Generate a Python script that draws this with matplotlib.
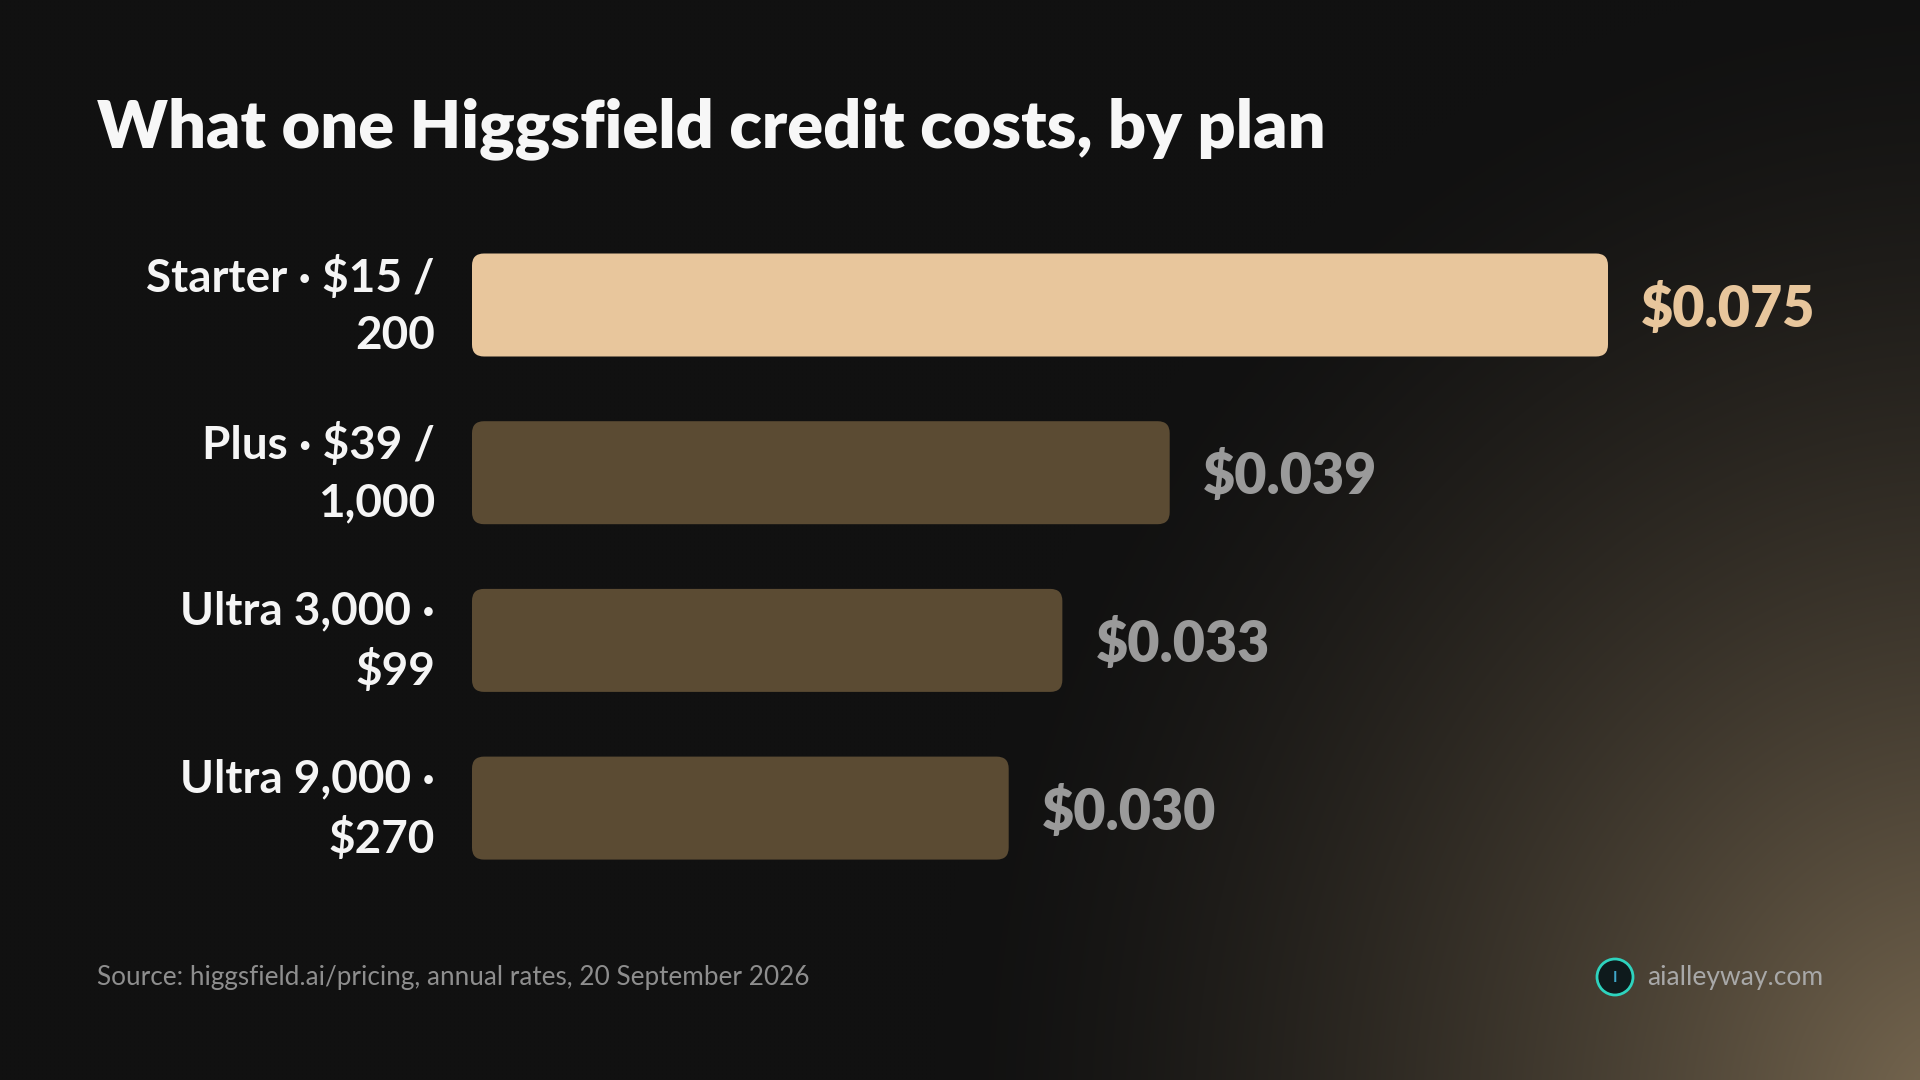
import numpy as np
import matplotlib
matplotlib.use("Agg")
import matplotlib.pyplot as plt
from matplotlib.patches import FancyBboxPatch, Circle

# ---- data ----
plans = ["Starter · $15 /\n200", "Plus · $39 /\n1,000", "Ultra 3,000 ·\n$99", "Ultra 9,000 ·\n$270"]
cost_per_credit = [0.075, 0.039, 0.033, 0.030]
value_labels = ["$0.075", "$0.039", "$0.033", "$0.030"]
bar_cap = 0.0635  # longest bar is drawn capped at this length

title = "What one Higgsfield credit costs, by plan"
source = "Source: higgsfield.ai/pricing, annual rates, 20 September 2026"
brand = "aialleyway.com"

# ---- style ----
W, H = 1920, 1080
BG = np.array([0x11, 0x11, 0x11]) / 255
GLOW = np.array([0x7a, 0x6a, 0x52]) / 255
HIGHLIGHT = "#E8C69C"
MUTED = "#5B4B33"
FONT = ["Lato", "DejaVu Sans"]
plt.rcParams["font.family"] = FONT

fig = plt.figure(figsize=(W / 100, H / 100), dpi=100)

# background with warm glow bottom-right
bg_ax = fig.add_axes([0, 0, 1, 1])
bg_ax.set_axis_off()
gy, gx = np.mgrid[0:H:4, 0:W:4]
d = np.sqrt(((gx - 1960) / 1020.0) ** 2 + ((gy - 1120) / 1150.0) ** 2)
t = np.clip(1 - d, 0, 1) ** 1.5
img = BG[None, None, :] * (1 - t[..., None]) + GLOW[None, None, :] * t[..., None]
bg_ax.imshow(img, extent=[0, W, H, 0], aspect="auto", interpolation="bicubic")
bg_ax.set_xlim(0, W)
bg_ax.set_ylim(H, 0)

# main bar axes (pixel geometry)
ax_left, ax_right = 472, 1608
row_pitch = 167.7
first_center = 305
ax_top = first_center - 0.5 * row_pitch
ax_bot = first_center + 3.5 * row_pitch
ax = fig.add_axes([ax_left / W, 1 - ax_bot / H, (ax_right - ax_left) / W, (ax_bot - ax_top) / H])
ax.set_axis_off()
ax.patch.set_alpha(0)
xmax = bar_cap
ax.set_xlim(0, xmax)
ax.set_ylim(len(plans) - 0.5, -0.5)

px_x = xmax / (ax_right - ax_left)
px_y = len(plans) / (ax_bot - ax_top)
bar_h = 103 * px_y
radius_px = 12

for i, (lab, v, vl) in enumerate(zip(plans, cost_per_credit, value_labels)):
    w = min(v, bar_cap)
    col = HIGHLIGHT if i == 0 else MUTED
    patch = FancyBboxPatch((0, i - bar_h / 2), w, bar_h,
                           boxstyle=f"round,pad=0,rounding_size={radius_px * px_x}",
                           mutation_aspect=px_y / px_x,
                           facecolor=col, edgecolor="none")
    ax.add_patch(patch)
    ax.annotate(vl, xy=(w, i), xytext=(33 * 0.72, -3), textcoords="offset points",
                ha="left", va="center", fontsize=40, fontweight="heavy",
                color=HIGHLIGHT if i == 0 else "#9A9A9A", annotation_clip=False)
    ax.annotate(lab, xy=(0, i), xytext=(-37 * 0.72, -1), textcoords="offset points",
                ha="right", va="center", multialignment="right", fontsize=33,
                fontweight="bold", color="#F5F5F5", linespacing=1.45,
                annotation_clip=False)

# title
fig.text(97 / W, 1 - 147 / H, title, ha="left", va="baseline", fontsize=48,
         fontweight="heavy", color="#F7F7F7")

# footer
fig.text(97 / W, 1 - 977 / H, source, ha="left", va="center", fontsize=18.8,
         color="#8E8E8E")
fig.text(1823 / W, 1 - 977 / H, brand, ha="right", va="center", fontsize=19,
         color="#A8A8A8")
bg_ax.add_patch(Circle((1615, 977), 18, facecolor="#0E1A1C", edgecolor="#2ED3BE", linewidth=2))
bg_ax.text(1615, 978, "I", ha="center", va="center", fontsize=11, color="#3FA7C9", fontweight="bold")

fig.savefig("out.png", dpi=100, facecolor="#111111")
